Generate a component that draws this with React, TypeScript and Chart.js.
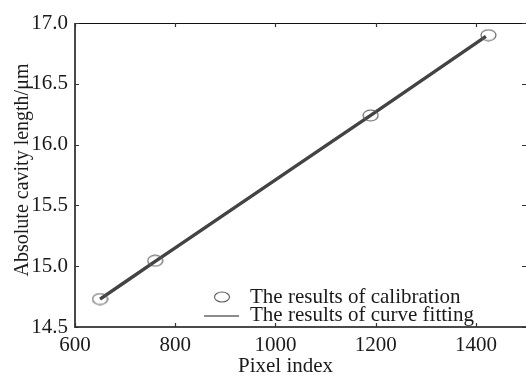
import React, { useEffect, useRef } from "react";
import { Chart, registerables } from "chart.js";

Chart.register(...registerables);

// Calibration measurements (pixel index -> absolute cavity length, µm)
const calibPixels = [650, 760, 1190, 1425];
const calibLengths = [14.73, 15.045, 16.24, 16.9];

// Fitted curve samples
const fitPixels = [650, 700, 760, 800, 900, 1000, 1100, 1190, 1300, 1420];
const fitLengths = [14.73, 14.87, 15.04, 15.15, 15.43, 15.71, 15.99, 16.24, 16.55, 16.89];

const xTicks = [600, 800, 1000, 1200, 1400];
const yTicks = [14.5, 15.0, 15.5, 16.0, 16.5, 17.0];

const xTitle = "Pixel index";
const yTitle = "Absolute cavity length/μm";
const legendLabels = ["The results of calibration", "The results of curve fitting"];

const FONT = '"Liberation Serif", "Times New Roman", serif';

function makeEllipse(w: number, h: number): HTMLCanvasElement {
  const c = document.createElement("canvas");
  c.width = w;
  c.height = h;
  const g = c.getContext("2d")!;
  g.strokeStyle = "#5a5a5a";
  g.lineWidth = 1.1;
  g.beginPath();
  g.ellipse(w / 2, h / 2, w / 2 - 1, h / 2 - 1, 0, 0, Math.PI * 2);
  g.stroke();
  return c;
}

const framePlugin = {
  id: "frameAndLegend",
  afterDraw(chart: any) {
    const { ctx, chartArea: a, scales } = chart;
    const xs = scales.x;
    const ys = scales.y;
    ctx.save();

    // frame: thin top edge, heavier left and bottom axes
    ctx.strokeStyle = "#111";
    ctx.lineWidth = 1.2;
    ctx.beginPath();
    ctx.moveTo(a.left, a.top + 0.5);
    ctx.lineTo(a.right, a.top + 0.5);
    ctx.stroke();
    ctx.strokeStyle = "#4a4a4a";
    ctx.lineWidth = 2;
    ctx.beginPath();
    ctx.moveTo(a.left, a.top);
    ctx.lineTo(a.left, a.bottom);
    ctx.lineTo(a.right, a.bottom);
    ctx.stroke();

    // inward tick marks on all four sides
    ctx.strokeStyle = "#333";
    ctx.lineWidth = 1.2;
    const tl = 4;
    for (const v of xTicks) {
      const px = Math.round(xs.getPixelForValue(v)) + 0.5;
      ctx.beginPath();
      ctx.moveTo(px, a.bottom);
      ctx.lineTo(px, a.bottom - tl);
      ctx.moveTo(px, a.top);
      ctx.lineTo(px, a.top + tl);
      ctx.stroke();
    }
    for (const v of yTicks) {
      const py = Math.round(ys.getPixelForValue(v)) + 0.5;
      ctx.beginPath();
      ctx.moveTo(a.left, py);
      ctx.lineTo(a.left + tl, py);
      ctx.moveTo(a.right, py);
      ctx.lineTo(a.right - tl, py);
      ctx.stroke();
    }

    // axis titles
    ctx.fillStyle = "#1a1a1a";
    ctx.textAlign = "center";
    ctx.textBaseline = "middle";
    ctx.font = `21px ${FONT}`;
    ctx.fillText(xTitle, (a.left + a.right) / 2 - 15, a.bottom + 39);
    ctx.font = `20px ${FONT}`;
    ctx.save();
    ctx.translate(23, (a.top + a.bottom) / 2 - 5);
    ctx.rotate(-Math.PI / 2);
    ctx.fillText(yTitle, 0, 0);
    ctx.restore();

    // legend inside the plot, lower right
    ctx.font = `21px ${FONT}`;
    const lx = a.left + 147;
    const ly1 = a.bottom - 30;
    const ly2 = a.bottom - 12;
    ctx.strokeStyle = "#5a5a5a";
    ctx.lineWidth = 1.1;
    ctx.beginPath();
    ctx.ellipse(lx, ly1, 7.5, 5, 0, 0, Math.PI * 2);
    ctx.stroke();
    ctx.strokeStyle = "#666";
    ctx.lineWidth = 1.6;
    ctx.beginPath();
    ctx.moveTo(lx - 18, ly2 + 1);
    ctx.lineTo(lx + 17, ly2 + 1);
    ctx.stroke();
    ctx.textAlign = "left";
    ctx.fillStyle = "#1a1a1a";
    ctx.fillText(legendLabels[0], lx + 28, ly1);
    ctx.fillText(legendLabels[1], lx + 28, ly2);

    ctx.restore();
  },
};

export default function App() {
  const ref = useRef<HTMLCanvasElement>(null);

  useEffect(() => {
    document.body.style.margin = "0";
    const marker = makeEllipse(17, 13);
    const chart = new Chart(ref.current!, {
      type: "scatter",
      data: {
        datasets: [
          {
            label: legendLabels[1],
            type: "line",
            data: fitPixels.map((x, i) => ({ x, y: fitLengths[i] })),
            borderColor: "#434343",
            borderWidth: 3.4,
            pointRadius: 0,
            tension: 0,
            order: 2,
          },
          {
            label: legendLabels[0],
            data: calibPixels.map((x, i) => ({ x, y: calibLengths[i] })),
            pointStyle: marker as any,
            pointRadius: 8,
            order: 1,
          },
        ],
      },
      options: {
        responsive: false,
        animation: false,
        layout: { autoPadding: false, padding: { top: 23, right: 0, left: 0, bottom: 0 } },
        plugins: { legend: { display: false }, tooltip: { enabled: false } },
        scales: {
          x: {
            type: "linear",
            min: 600,
            max: 1500,
            afterFit: (s: any) => {
              s.height = 51;
              s.paddingRight = 0;
              s.paddingLeft = 0;
            },
            afterBuildTicks: (s: any) => {
              s.ticks = xTicks.map((v) => ({ value: v }));
            },
            grid: { display: false, drawTicks: false },
            border: { display: false },
            ticks: {
              padding: 6,
              color: "#1a1a1a",
              font: { family: FONT, size: 21 },
              maxRotation: 0,
              autoSkip: false,
              callback: (v: any) => String(v),
            },
          },
          y: {
            type: "linear",
            min: 14.5,
            max: 17.0,
            afterFit: (s: any) => {
              s.width = 75;
              s.paddingTop = 0;
              s.paddingBottom = 0;
            },
            afterBuildTicks: (s: any) => {
              s.ticks = yTicks.map((v) => ({ value: v }));
            },
            grid: { display: false, drawTicks: false },
            border: { display: false },
            ticks: {
              padding: 7,
              color: "#1a1a1a",
              font: { family: FONT, size: 21 },
              callback: (v: any) => Number(v).toFixed(1),
            },
          },
        },
      },
      plugins: [framePlugin],
    });
    return () => chart.destroy();
  }, []);

  return (
    <div style={{ position: "fixed", left: 0, top: 0, background: "#fff" }}>
      <canvas ref={ref} width={526} height={378} />
    </div>
  );
}
